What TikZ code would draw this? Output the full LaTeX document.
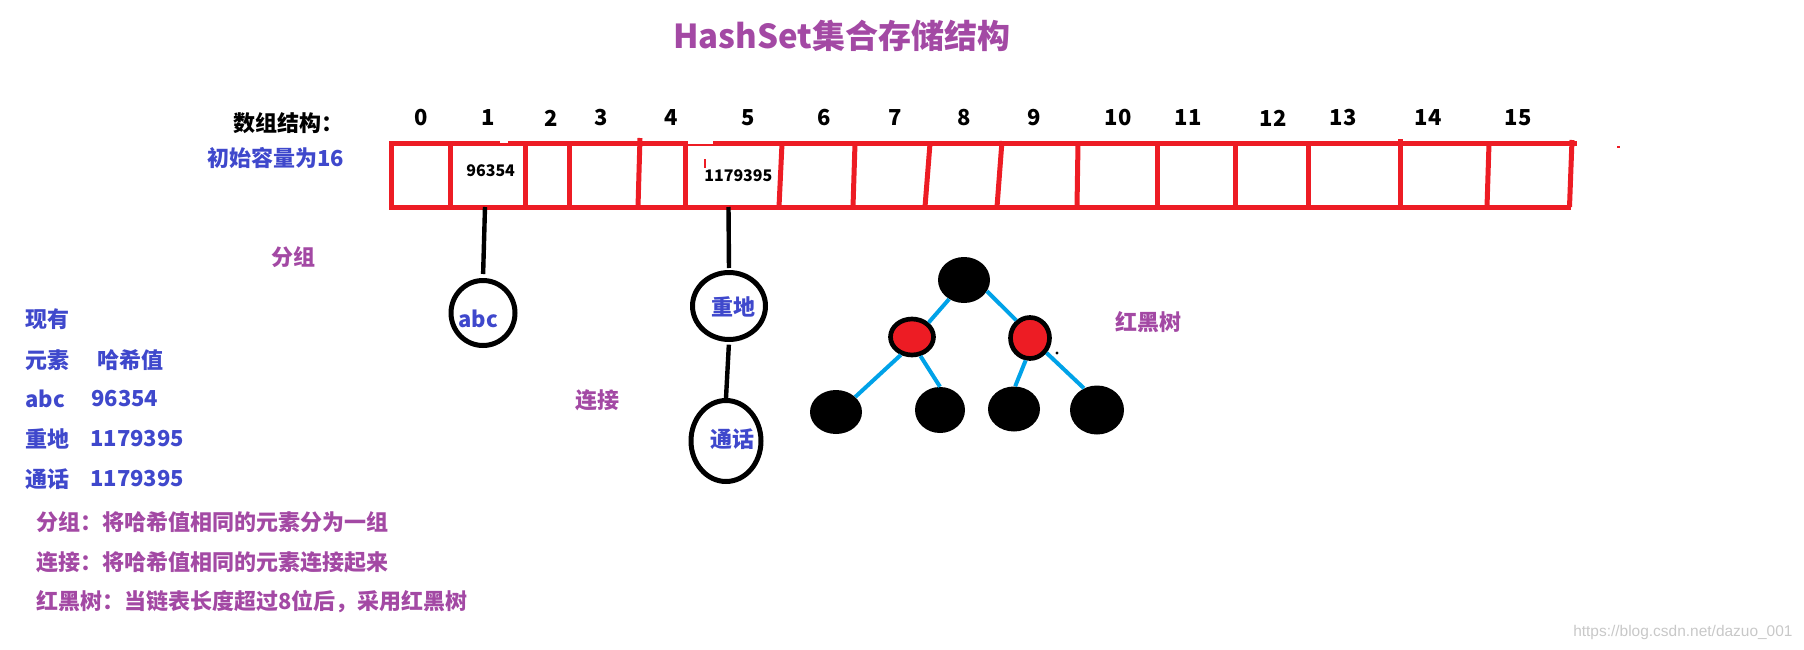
\documentclass[tikz,border=0pt]{standalone}
\usepackage{fontspec}
\setmainfont{Noto Sans CJK SC}
\newfontfamily\wmfont{Liberation Sans}
\usetikzlibrary{shapes.geometric}
\definecolor{pp}{HTML}{A349A4}
\definecolor{bl}{HTML}{3F48CC}
\definecolor{rd}{HTML}{ED1C24}
\definecolor{lb}{HTML}{00A2E8}
\definecolor{wm}{HTML}{C8C8C8}
\begin{document}
\begin{tikzpicture}[x=0.75pt,y=-0.75pt,
  every node/.style={inner sep=0pt},
  lbl/.style={font=\bfseries\fontsize{16.5pt}{19pt}\selectfont, anchor=west},
  plbl/.style={lbl, text=pp},
  blbl/.style={lbl, text=bl},
  klbl/.style={lbl, text=black},
  idx/.style={font=\bfseries\fontsize{16.5pt}{19pt}\selectfont, text=black},
  cellval/.style={font=\bfseries\fontsize{12pt}{14pt}\selectfont, text=black, anchor=west},
  redline/.style={draw=rd, line width=3.75pt},
  blackline/.style={draw=black, line width=3.3pt},
  blueline/.style={draw=lb, line width=3pt},
  ring/.style={ellipse, draw=black, line width=3.75pt},
  blacknode/.style={ellipse, fill=black},
  rednode/.style={ellipse, fill=rd, draw=black, line width=3.5pt},
]
\useasboundingbox (0,0) rectangle (1804,650);

% title
\node[font=\bfseries\fontsize{24.75pt}{28pt}\selectfont, text=pp, anchor=west] (title) at (673,36) {HashSet集合存储结构};

% left header labels
\node[klbl] (arr) at (233,123) {数组结构：};
\node[blbl] (cap) at (207,158) {初始容量为16};

% indices
\foreach \i/\x in {0/421,1/488,2/551,3/601,4/671,5/748,6/824,7/895,8/964,9/1034,10/1118,11/1188,12/1273,13/1343,14/1428,15/1518}
  \node[idx] (i\i) at (\x,118) {\i};

% array box
\draw[redline] (389,143.5) -- (1577,143.5);
\draw[redline] (389,207) -- (1571,207);
\draw[redline] (391.5,143.5) -- (391.5,207);
\draw[redline] (1572,140) -- (1569.5,207);
\foreach \a/\b/\t in {450/450/143.5, 525/525/143.5, 569/569/143.5, 640/638/138, 685/685/143.5, 782/779/143.5, 855/853/143.5, 930/925/143.5, 1002/997/141, 1078/1077/143.5, 1157/1157/143.5, 1235/1235/143.5, 1308/1308/143.5, 1400/1400/139, 1489/1487/143.5}
  \draw[redline] (\a,\t) -- (\b,207);
\fill[white] (688,140.5) rectangle (713,143.5);
\fill[white] (500,140.5) rectangle (508,142.5);
\draw[rd, line width=1.1pt] (705,159) -- (705,168);
\fill[rd] (1617,146) rectangle (1620,148);

% cell values
\node[cellval] (v1) at (466,171) {96354};
\node[cellval] (v5) at (704,176) {1179395};
\coordinate (c1) at (485,207);
\coordinate (c5) at (728.5,207);

% chains
\node[ring, minimum width=48pt, minimum height=48.75pt] (abc) at (483,313) {};
\node[blbl, anchor=center] (tabc) at (478,319) {abc};
\node[ring, minimum width=54.75pt, minimum height=50.25pt] (zd) at (729,306) {};
\node[blbl, anchor=center] (tzd) at (733,307) {重地};
\node[ring, minimum width=52.5pt, minimum height=60.75pt] (th) at (726,441) {};
\node[blbl, anchor=center] (tth) at (732,439) {通话};
\draw[blackline, shorten >=3pt] (c1) -- (abc.north);
\draw[blackline, shorten >=1.5pt] (c5) -- (zd.north);
\draw[blackline, shorten <=2pt] (zd.south) -- (th.north);

% labels
\node[plbl, anchor=center] (fz) at (293.5,257) {分组};
\node[plbl, anchor=center] (lj) at (597,400) {连接};
\node[plbl, anchor=center] (hhs) at (1148,322) {红黑树};

% red-black tree
\node[blacknode, minimum width=39pt, minimum height=34.5pt] (root) at (964,280) {};
\node[rednode, minimum width=32.25pt, minimum height=27pt] (rl) at (912,337) {};
\node[rednode, minimum width=29.25pt, minimum height=30.75pt] (rr) at (1030,338) {};
\node[blacknode, minimum width=39pt, minimum height=33pt] (ll) at (836,412) {};
\node[blacknode, minimum width=37.5pt, minimum height=34.5pt] (lr) at (940,410) {};
\node[blacknode, minimum width=39pt, minimum height=33.75pt] (rlc) at (1014,409) {};
\node[blacknode, minimum width=40.5pt, minimum height=36.75pt] (rrc) at (1097,410) {};
\draw[blueline] (root.232) -- (rl.41);
\draw[blueline] (root.-26) -- (rr.128);
\draw[blueline] (rl.238) -- (ll.38);
\draw[blueline] (rl.294) -- (lr.90);
\draw[blueline] (rr.259) -- (rlc.87);
\draw[blueline] (rr.318) -- (rrc.121);
\fill[black] (1057,353) circle (1.2pt);

% left column
\node[blbl] (t1) at (25,319) {现有};
\node[blbl] (t2a) at (25,360) {元素};
\node[blbl] (t2b) at (97,360) {哈希值};
\node[blbl] (t3a) at (25,399) {abc};
\node[blbl] (t3b) at (91,399) {96354};
\node[blbl] (t4a) at (25,439) {重地};
\node[blbl] (t4b) at (90,439) {1179395};
\node[blbl] (t5a) at (25,479) {通话};
\node[blbl] (t5b) at (90,479) {1179395};
\node[plbl] (d1) at (36,522) {分组：将哈希值相同的元素分为一组};
\node[plbl] (d2) at (36,562) {连接：将哈希值相同的元素连接起来};
\node[plbl] (d3) at (36,602) {红黑树：当链表长度超过8位后，采用红黑树};

% watermark
\node[anchor=west, text=wm, font=\wmfont\fontsize{11.6pt}{13pt}\selectfont] (wmk) at (1573,632) {https://blog.csdn.net/dazuo\_001};
\end{tikzpicture}
\end{document}
